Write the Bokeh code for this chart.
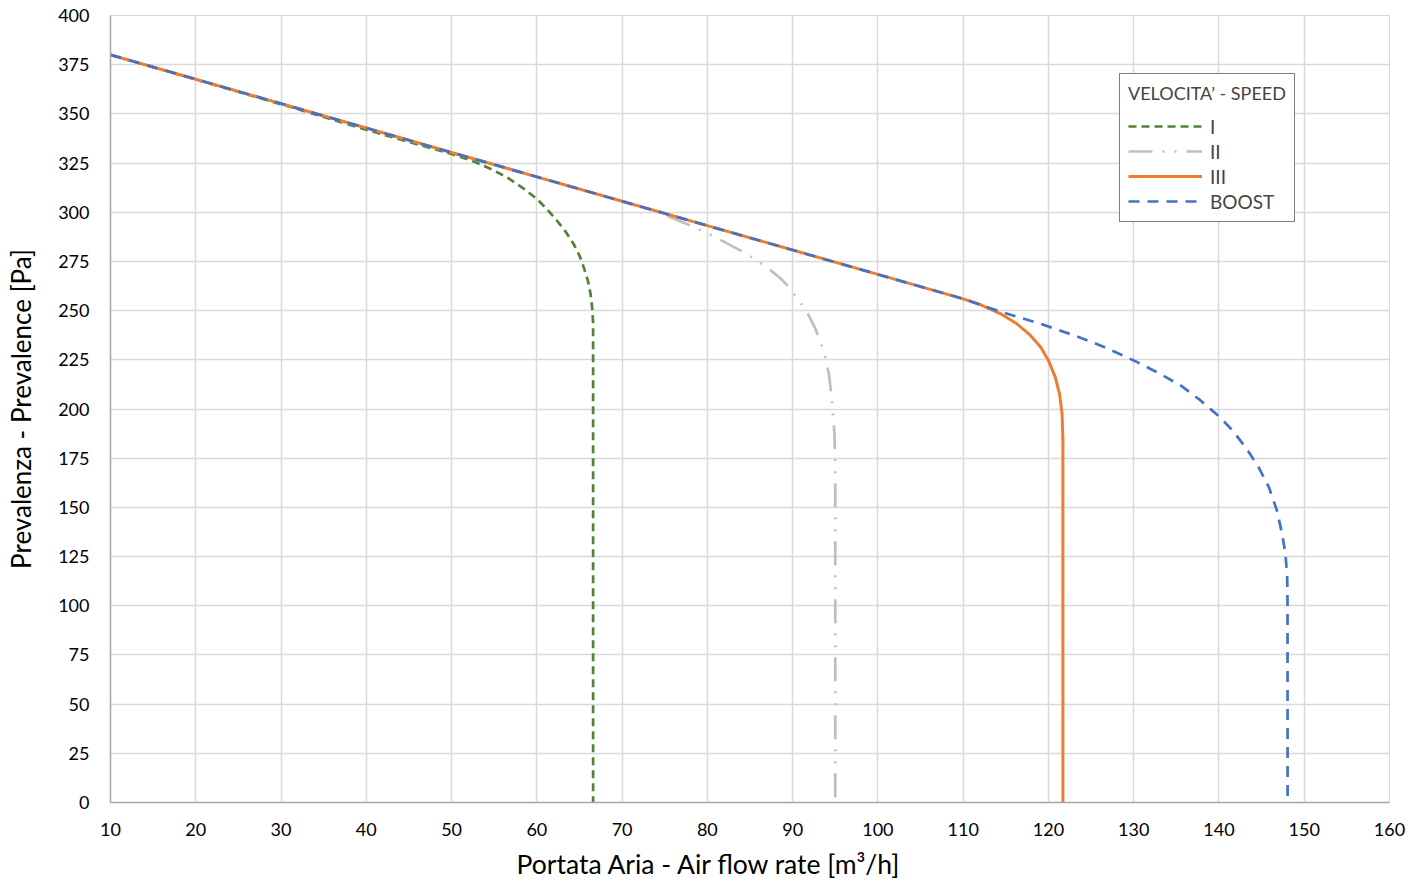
from bokeh.plotting import figure
from bokeh.models import Range1d, FixedTicker, Legend, LegendItem, ColumnDataSource, Title
from bokeh.embed import file_html
from bokeh.resources import INLINE

# ---- data ----
x_ticks = [10, 20, 30, 40, 50, 60, 70, 80, 90, 100, 110, 120, 130, 140, 150, 160]
y_ticks = [0, 25, 50, 75, 100, 125, 150, 175, 200, 225, 250, 275, 300, 325, 350, 375, 400]

series_names = ["I", "II", "III", "BOOST"]

x_I = [10, 20, 30, 40, 50, 52.5, 54.6, 56.5, 58.5, 60, 61.2, 62.35, 63.4, 64.3, 65.0, 65.5, 66.0, 66.3, 66.5, 66.6, 66.6]
y_I = [380, 367.5, 354.9, 341.9, 329.6, 326.0, 322.0, 317.8, 311.9, 306.8, 301.5, 295.8, 290.0, 284.0, 278.0, 272.0, 265.0, 258.5, 251.0, 243.5, 0]

x_II = [10, 20, 30, 40, 50, 60, 70, 74.5, 78.4, 81.1, 83.9, 85.8, 87.4, 88.6, 89.55, 90.8, 91.9, 92.6, 93.2, 93.8, 94.25, 94.6, 94.9, 95.0, 95.0]
y_II = [380, 367.6, 355.2, 342.8, 330.4, 318.0, 305.6, 299.6, 292.5, 287.0, 280.5, 275.5, 270.6, 266.3, 262.0, 255.0, 247.5, 241.5, 235.0, 226.5, 218.0, 205.0, 187.5, 170.0, 0]

x_III = [10, 20, 30, 40, 50, 60, 70, 80, 90, 100, 110, 112.0, 114.4, 116.3, 117.9, 119.1, 120.0, 120.8, 121.3, 121.6, 121.7, 121.7]
y_III = [380, 367.6, 355.2, 342.8, 330.4, 318.0, 305.6, 293.2, 280.8, 268.4, 256.0, 253.1, 248.4, 243.3, 237.4, 231.4, 224.7, 216.2, 207.7, 197.6, 184.0, 0]

x_BOOST = [10, 20, 30, 40, 50, 60, 70, 80, 90, 100, 110, 114.4, 119.1, 123.6, 126.1, 130.0, 133.0, 135.5, 137.8, 140.06, 141.7, 143.3, 144.7, 145.85, 146.8, 147.4, 147.8, 148.0, 148.04, 148.05]
y_BOOST = [380, 367.6, 355.2, 342.8, 330.4, 318.0, 305.6, 293.2, 280.8, 268.4, 256.0, 249.4, 243.3, 236.5, 232.3, 224.7, 218.1, 212.0, 204.5, 196.0, 188.6, 179.4, 170.0, 160.3, 148.4, 136.6, 126.4, 114.5, 102.7, 0]

FONT = "Lato"

p = figure(width=1408, height=889, output_backend="svg", toolbar_location=None,
           x_range=Range1d(10, 160), y_range=Range1d(0, 400),
           min_border_left=110, min_border_right=19, min_border_top=15, min_border_bottom=87,
           background_fill_color="white", border_fill_color="white")

p.outline_line_color = "#d9d9d9"
p.outline_line_width = 1

for ax in (p.xaxis[0], p.yaxis[0]):
    ax.axis_line_color = "#a6a6a6"
    ax.axis_line_width = 1.5
    ax.major_tick_line_color = None
    ax.minor_tick_line_color = None
    ax.major_label_text_font = FONT
    ax.major_label_text_font_size = "18px"
    ax.major_label_text_color = "#000000"
    ax.axis_label_text_font = FONT
    ax.axis_label_text_font_style = "normal"
    ax.axis_label_text_font_size = "26px"
    ax.axis_label_text_color = "#000000"

p.xaxis.ticker = FixedTicker(ticks=x_ticks)
p.yaxis.ticker = FixedTicker(ticks=y_ticks)
p.xaxis.major_label_standoff = 14
p.yaxis.major_label_standoff = 15
p.yaxis.axis_label = "Prevalenza - Prevalence [Pa]"
p.yaxis.axis_label_standoff = 18

x_title = Title(text="Portata Aria - Air flow rate [m³/h]", align="left", offset=406,
                text_font=FONT, text_font_size="26.5px", text_font_style="normal",
                text_color="#000000", standoff=15)
p.add_layout(x_title, "below")

p.xgrid.grid_line_color = "#d9d9d9"
p.ygrid.grid_line_color = "#d9d9d9"
p.xgrid.grid_line_width = 1.5
p.ygrid.grid_line_width = 1.5

styles = {
    "I": dict(color="#548235", width=2.7, dash="8 5"),
    "II": dict(color="#bfbfbf", width=2.7, dash="24 10 2 10 2 10"),
    "III": dict(color="#ed7d31", width=3, dash="solid"),
    "BOOST": dict(color="#4472c4", width=2.7, dash="11 8"),
}
data = {"I": (x_I, y_I), "II": (x_II, y_II), "III": (x_III, y_III), "BOOST": (x_BOOST, y_BOOST)}

items = []
for name in series_names:
    xs, ys = data[name]
    st = styles[name]
    src = ColumnDataSource(dict(x=xs, y=ys))
    r = p.line("x", "y", source=src, line_color=st["color"], line_width=st["width"],
               line_dash=st["dash"], line_join="round")
    items.append(LegendItem(label=name, renderers=[r]))

legend = Legend(items=items, location=(1009, 580), title="VELOCITA’ - SPEED",
                title_text_font=FONT, title_text_font_size="18px", title_text_font_style="normal",
                label_text_font=FONT, label_text_font_size="19px",
                glyph_width=74, glyph_height=24, label_standoff=8, spacing=1,
                padding=8, margin=0,
                border_line_color="#000000", border_line_width=1,
                background_fill_alpha=1.0, title_standoff=10)
p.add_layout(legend)

open("out.html", "w").write(file_html(p, INLINE))
